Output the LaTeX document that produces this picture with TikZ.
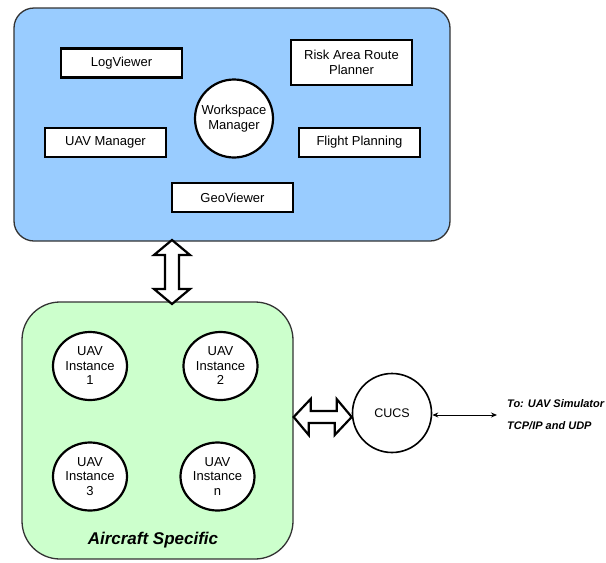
\documentclass[tikz,border=0pt]{standalone}
\usepackage{fontspec}
\setmainfont{Liberation Sans}
\usetikzlibrary{shapes.geometric,arrows.meta}
\begin{document}
\begin{tikzpicture}[x=1pt,y=-1pt,
  labelfont/.style={font=\fontsize{13}{14.5}\selectfont},
  module/.style={draw=black, line width=2.6pt, fill=white, minimum width=121pt,
    minimum height=29pt, inner sep=0pt, align=center, labelfont},
  hub/.style={draw=black, line width=2.2pt, fill=white, circle, inner sep=0pt,
    minimum size=78pt, align=center, labelfont},
  instance/.style={draw=black, line width=2.2pt, fill=white, ellipse, inner sep=0pt,
    minimum width=74pt, minimum height=68pt, align=center, labelfont},
  fatarrow/.style={draw=black, line width=2.2pt, fill=white, line join=miter},
  panel/.style={draw=black!80, line width=1.3pt, inner sep=0pt},
  simtext/.style={anchor=west, inner sep=0pt, font=\fontsize{11}{11}\selectfont\bfseries\itshape}
]
\useasboundingbox (0,0) rectangle (606,563);

% panels
\node[panel, fill={rgb,255:red,153;green,204;blue,255}, rounded corners=20pt,
  minimum width=436pt, minimum height=233pt] (ws) at (232,124.5) {};
\node[panel, fill={rgb,255:red,204;green,255;blue,204}, rounded corners=38pt,
  minimum width=271pt, minimum height=257pt] (ac) at (157.5,430.5) {};

% workspace modules
\node[module] (log) at (121.5,63) {LogViewer};
\node[module, minimum height=45pt] (risk) at (351.5,62.5) {Risk Area Route\\Planner};
\node[hub] (wm) at (234,118.5) {Workspace\\Manager};
\node[module] (uavm) at (105.5,142.5) {UAV Manager};
\node[module] (flight) at (359.5,142.5) {Flight Planning};
\node[module] (geo) at (232.5,197.5) {GeoViewer};

% aircraft-specific instances
\node[instance] (i1) at (90,366) {UAV\\Instance\\1};
\node[instance] (i2) at (220.5,366) {UAV\\Instance\\2};
\node[instance] (i3) at (90,476.5) {UAV\\Instance\\3};
\node[instance] (in) at (217.5,476.5) {UAV\\Instance\\n};
\node[font=\fontsize{17}{17}\selectfont\bfseries\itshape] (actitle) at (153,540) {Aircraft Specific};

% CUCS
\node[hub, minimum size=79pt, line width=1.6pt, font=\fontsize{12.5}{14}\selectfont] (cucs) at (392,413) {CUCS};

% vertical double arrow between the panels
\coordinate (vtop) at (172,240);
\coordinate (vbot) at (172,304);
\draw[fatarrow] (vtop) -- ++(18,15) -- ++(-11,0) -- ++(0,34) -- ++(11,0) -- (vbot)
  -- ++(-18,-15) -- ++(11,0) -- ++(0,-34) -- ++(-11,0) -- cycle;

% horizontal double arrow between aircraft panel and CUCS
\coordinate (hl) at (ac.east |- 0,417);
\coordinate (hr) at (cucs.west |- 0,417);
\draw[fatarrow] (hl) -- ++(17,-18) -- ++(0,12) -- ++(26,0) -- ++(0,-12) -- (hr)
  -- ++(-17,18) -- ++(0,-12) -- ++(-26,0) -- ++(0,12) -- cycle;

% link to the simulator
\coordinate (sim) at (497,415);
\draw[line width=0.9pt, {Stealth[length=6pt,width=5pt]}-{Stealth[length=6pt,width=5pt]}]
  (cucs.east |- sim) -- (sim);
\node[simtext] (simA) at (507,404) {To: UAV Simulator};
\node[simtext] (simB) at (507,426) {TCP/IP and UDP};
\end{tikzpicture}
\end{document}
